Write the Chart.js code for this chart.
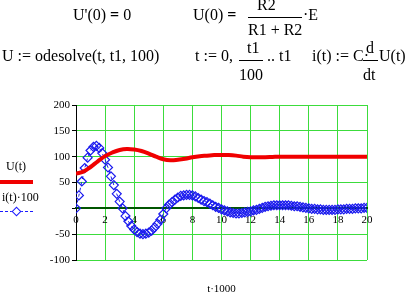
<!DOCTYPE html>
<html>
<head>
<meta charset="utf-8">
<script src="https://cdn.jsdelivr.net/npm/chart.js@4/dist/chart.umd.min.js"></script>
<style>
  html, body { margin: 0; padding: 0; background: #fff; }
  #wrap { position: relative; width: 411px; height: 295px; overflow: hidden; font-family: "Liberation Serif", "Times New Roman", "DejaVu Serif", serif; color: #000; }
  #chart { position: absolute; left: 0; top: 0; }
  .eq { position: absolute; font-size: 16px; line-height: 1; white-space: nowrap; }
  .bar { position: absolute; height: 0; border-top: 1px solid #000; }
  .lg { position: absolute; font-size: 12px; line-height: 1; white-space: nowrap; }
</style>
</head>
<body>
<div id="wrap">
  <canvas id="chart" width="411" height="295"></canvas>

  <!-- row 1 -->
  <span class="eq" style="left:73px;top:7px">U'(0) <b>=</b> 0</span>
  <span class="eq" style="left:193px;top:7px">U(0) <b>=</b></span>
  <span class="eq" style="left:257px;top:-3px">R2</span>
  <div class="bar" style="left:248px;top:17px;width:54px"></div>
  <span class="eq" style="left:248px;top:22px">R1 + R2</span>
  <span class="eq" style="left:303px;top:7px">&middot;E</span>

  <!-- row 2 -->
  <span class="eq" style="left:2px;top:48px">U := odesolve(t, t1, 100)</span>
  <span class="eq" style="left:195px;top:48px">t := 0,</span>
  <span class="eq" style="left:247px;top:40px">t1</span>
  <div class="bar" style="left:239px;top:60px;width:24px"></div>
  <span class="eq" style="left:239px;top:67px">100</span>
  <span class="eq" style="left:267px;top:48px">.. t1</span>
  <span class="eq" style="left:312px;top:48px">i(t) := C&middot;</span>
  <span class="eq" style="left:366px;top:40px">d</span>
  <div class="bar" style="left:363px;top:60px;width:15px"></div>
  <span class="eq" style="left:363px;top:67px">dt</span>
  <span class="eq" style="left:379px;top:48px">U(t)</span>

  <!-- legend -->
  <span class="lg" style="left:6px;top:160px">U(t)</span>
  <div style="position:absolute;left:0;top:180px;width:33px;height:4px;background:#f00000"></div>
  <span class="lg" style="left:2px;top:191px">i(t)&middot;100</span>
  <div style="position:absolute;left:0;top:211px;width:33px;height:0;border-top:1px dashed #1a1aff"></div>
  <div style="position:absolute;left:13px;top:208px;width:5px;height:5px;border:1px solid #1a1aff;background:#fff;transform:rotate(45deg)"></div>
</div>

<script>
// U(t), read every 0.5 on the t·1000 axis
var tU = [0, 0.5, 1, 1.5, 2, 2.5, 3, 3.5, 4, 4.5, 5, 5.5, 6, 6.5, 7, 7.5, 8, 8.5, 9, 9.5,
          10, 10.5, 11, 11.5, 12, 12.5, 13, 13.5, 14, 14.5, 15, 15.5, 16, 16.5, 17, 17.5,
          18, 18.5, 19, 19.5, 20];
var uVals = [67, 71, 80, 91, 101, 108, 113, 115, 114, 111, 106, 100, 95, 93, 94, 96, 99, 101, 102, 103,
             103, 103, 102, 100, 99, 99, 99, 99.5, 100, 100, 100, 100, 100, 100, 100, 100,
             100, 100, 100, 100, 100];

// i(t)·100, one value per plotted point (step t1/100)
var tI = [0, 0.2, 0.4, 0.6, 0.8, 1, 1.2, 1.4, 1.6, 1.8, 2, 2.2, 2.4, 2.6, 2.8, 3, 3.2, 3.4, 3.6, 3.8,
          4, 4.2, 4.4, 4.6, 4.8, 5, 5.2, 5.4, 5.6, 5.8, 6, 6.2, 6.4, 6.6, 6.8, 7, 7.2, 7.4, 7.6, 7.8,
          8, 8.2, 8.4, 8.6, 8.8, 9, 9.2, 9.4, 9.6, 9.8, 10, 10.2, 10.4, 10.6, 10.8, 11, 11.2, 11.4, 11.6, 11.8,
          12, 12.2, 12.4, 12.6, 12.8, 13, 13.2, 13.4, 13.6, 13.8, 14, 14.2, 14.4, 14.6, 14.8, 15, 15.2, 15.4, 15.6, 15.8,
          16, 16.2, 16.4, 16.6, 16.8, 17, 17.2, 17.4, 17.6, 17.8, 18, 18.2, 18.4, 18.6, 18.8, 19, 19.2, 19.4, 19.6, 19.8,
          20];
var iVals = [0, 25, 52, 78, 98, 112, 119, 121, 117, 107, 94, 79, 62, 45, 28, 13, 0, -15, -25, -34,
             -41, -46, -49, -50, -49, -47, -43, -37, -30, -22, -11, 0, 7, 12, 17, 21, 24, 25, 26, 26,
             25, 23, 20, 17, 14, 12, 9, 6, 3, 1, -2, -4, -6, -8, -9, -10, -10, -9, -8, -7,
             -6, -4, -3, -1, 1, 3, 4, 5, 6, 6, 6, 6, 6, 6, 5, 4, 4, 3, 2, 1,
             0, -1, -1, -2, -2, -3, -3, -3, -3, -3, -2, -2, -2, -1, -1, -1, 0, 0, 0, 1,
             1];

var yTicks = [-100, -50, 0, 50, 100, 150, 200];

var GRID = '#3cdc3c';
var FONT = { family: '"Liberation Serif", "Times New Roman", serif', size: 11 };

function pairs(xs, ys) {
    return xs.map(function (x, k) { return { x: x, y: ys[k] }; });
}

var chart = new Chart(document.getElementById('chart').getContext('2d'), {
    type: 'line',
    data: {
        datasets: [{
            label: 'U(t)',
            data: pairs(tU, uVals),
            borderColor: '#f00000',
            borderWidth: 4,
            pointRadius: 0,
            tension: 0.4,
            xAxisID: 'x'
        }, {
            label: 'i(t)·100',
            data: pairs(tI, iVals),
            borderColor: '#1a1aee',
            borderWidth: 1,
            borderDash: [3, 3],
            pointStyle: 'rectRot',
            pointRadius: 4.5,
            pointBorderWidth: 1.2,
            pointBorderColor: '#1a1aee',
            pointBackgroundColor: 'rgba(0,0,0,0)',
            tension: 0,
            xAxisID: 'x'
        }]
    },
    options: {
        responsive: false,
        animation: false,
        layout: { padding: { left: 0, right: 44, top: 105, bottom: 0 } },
        plugins: { legend: { display: false }, tooltip: { enabled: false } },
        scales: {
            x: {
                type: 'linear',
                min: 0,
                max: 20,
                position: { y: 0 },
                ticks: { stepSize: 2, color: '#000', font: FONT, padding: 5, maxRotation: 0 },
                grid: {
                    color: function (ctx) { return ctx.tick && ctx.tick.value === 0 ? '#000' : GRID; },
                    drawTicks: false
                },
                border: { color: '#005500', width: 2 }
            },
            x2: {
                type: 'linear',
                position: 'bottom',
                min: 0,
                max: 20,
                ticks: { display: false },
                grid: { display: false },
                border: { display: false },
                title: { display: true, text: 't·1000', color: '#000', font: { family: FONT.family, size: 11, lineHeight: 1 }, padding: 0 },
                afterFit: function (scale) { scale.height = 35; }
            },
            y: {
                type: 'linear',
                min: -100,
                max: 200,
                afterBuildTicks: function (scale) {
                    scale.ticks = yTicks.map(function (v) { return { value: v }; });
                },
                ticks: {
                    color: '#000',
                    font: FONT,
                    padding: 2,
                    callback: function (v) { return v === 0 ? '' : v; }
                },
                grid: { color: GRID, tickColor: '#000', tickLength: 4 },
                border: { color: '#000', width: 1 },
                afterFit: function (scale) { scale.width = 76; }
            }
        }
    }
});
</script>
</body>
</html>
